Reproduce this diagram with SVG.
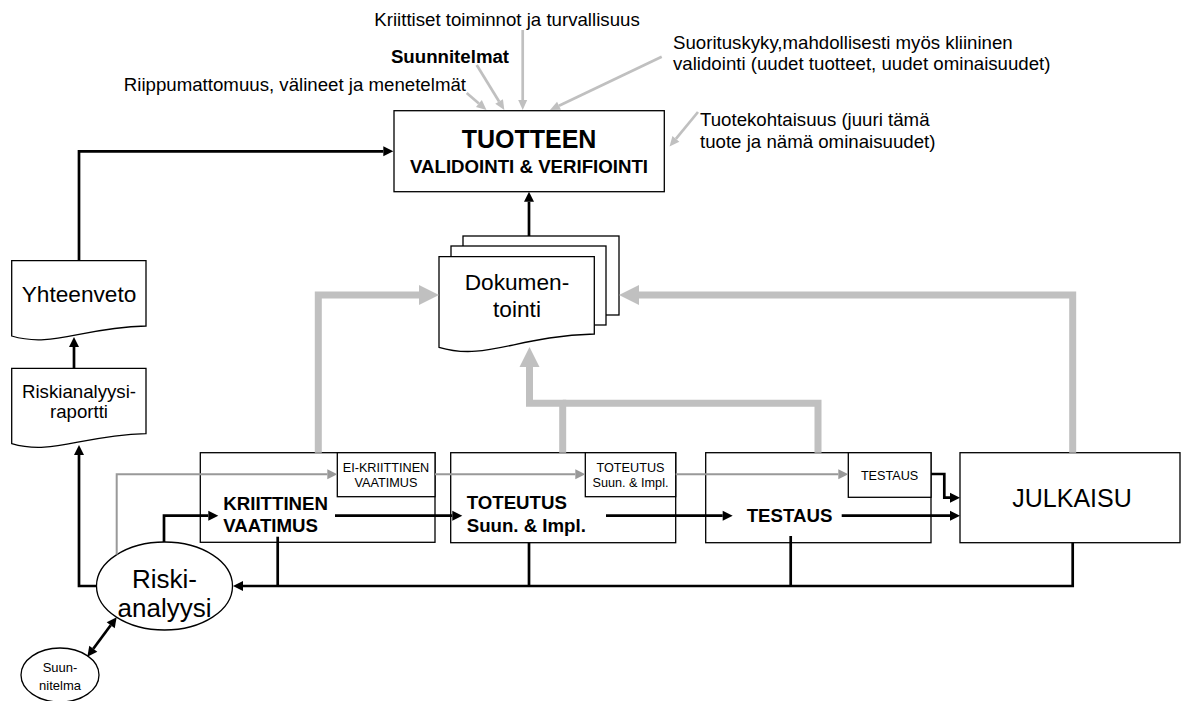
<svg xmlns="http://www.w3.org/2000/svg" width="1182" height="701" viewBox="0 0 1182 701">
  <style>
    text { font-family: "Liberation Sans", Arial, sans-serif; fill: #000; }
    .box { fill: #fff; stroke: #000; stroke-width: 1.3; }
    .lbl { font-size: 18.67px; }
    .b { font-weight: bold; }
    .sm { font-size: 12.67px; }
    .mid { text-anchor: middle; }
    .blk { fill: none; stroke: #000; stroke-width: 2.7; }
    .gthick { fill: none; stroke: #c0c0c0; stroke-width: 7; }
    .gthin { fill: none; stroke: #999; stroke-width: 2; }
    .gcall { fill: none; stroke: #c0c0c0; stroke-width: 2.7; }
  </style>
  <defs>
    <marker id="ab" markerUnits="userSpaceOnUse" markerWidth="10" markerHeight="10" refX="0" refY="5" orient="auto-start-reverse" overflow="visible">
      <path d="M0,0 L10,5 L0,10 Z" fill="#000"/>
    </marker>
    <marker id="ag" markerUnits="userSpaceOnUse" markerWidth="20" markerHeight="20" refX="0" refY="10" orient="auto" overflow="visible">
      <path d="M0,0 L20,10 L0,20 Z" fill="#c0c0c0"/>
    </marker>
    <marker id="at" markerUnits="userSpaceOnUse" markerWidth="10" markerHeight="10" refX="0" refY="5" orient="auto" overflow="visible">
      <path d="M0,0 L10,5 L0,10 Z" fill="#999"/>
    </marker>
    <marker id="ac" markerUnits="userSpaceOnUse" markerWidth="10" markerHeight="9" refX="0" refY="4.5" orient="auto" overflow="visible">
      <path d="M0,0 L10,4.5 L0,9 Z" fill="#c0c0c0"/>
    </marker>
  </defs>

  <rect width="1182" height="701" fill="#fff"/>

  <!-- annotations around the validation box -->
  <g id="notes">
    <text class="lbl mid" x="507" y="26">Kriittiset toiminnot ja turvallisuus</text>
    <text class="lbl b mid" x="450" y="63">Suunnitelmat</text>
    <text class="lbl" x="466" y="91" text-anchor="end">Riippumattomuus, välineet ja menetelmät</text>
    <text class="lbl" x="673" y="48.5">Suorituskyky,mahdollisesti myös kliininen</text>
    <text class="lbl" x="673" y="70">validointi (uudet tuotteet, uudet ominaisuudet)</text>
    <text class="lbl" x="700" y="126">Tuotekohtaisuus (juuri tämä</text>
    <text class="lbl" x="700" y="148">tuote ja nämä ominaisuudet)</text>
  </g>

  <g id="validointi">
    <rect class="box" x="394" y="110.7" width="270.3" height="81"/>
    <text class="b mid" x="529" y="148" font-size="25">TUOTTEEN</text>
    <text class="lbl b mid" x="529" y="173">VALIDOINTI &amp; VERIFIOINTI</text>
  </g>

  <g id="dokumentointi">
    <rect class="box" x="463" y="236" width="156" height="79"/>
    <rect class="box" x="451" y="246" width="155" height="79"/>
    <path class="box" d="M439,256.7 H594.3 V334 C516.7,336 485.6,361.3 439,347.3 Z"/>
    <text class="mid" x="517" y="290" font-size="22.67">Dokumen-</text>
    <text class="mid" x="517" y="316.7" font-size="22.67">tointi</text>
  </g>

  <g id="yhteenveto">
    <path class="box" d="M11.7,260.7 H146 V326 C78.8,328 52,348 11.7,336 Z"/>
    <text class="mid" x="79" y="301.7" font-size="22.67">Yhteenveto</text>
  </g>

  <g id="riskianalyysiraportti">
    <path class="box" d="M11.7,368.3 H146 V433.6 C78.8,435.6 52,455.6 11.7,443.6 Z"/>
    <text class="lbl mid" x="79" y="398">Riskianalyysi-</text>
    <text class="lbl mid" x="79" y="418">raportti</text>
  </g>

  <g id="kriittinen-vaatimus">
    <rect class="box" x="200.3" y="452.7" width="234.7" height="89.6"/>
    <text class="lbl b" x="223.3" y="510">KRIITTINEN</text>
    <text class="lbl b" x="223.3" y="531.7">VAATIMUS</text>
  </g>
  <g id="ei-kriittinen-vaatimus">
    <rect class="box" x="337.3" y="452.7" width="97.7" height="44"/>
    <text class="sm mid" x="386" y="471.7">EI-KRIITTINEN</text>
    <text class="sm mid" x="386" y="486.7">VAATIMUS</text>
  </g>

  <g id="toteutus">
    <rect class="box" x="450.7" y="452.7" width="225" height="90"/>
    <text class="lbl b" x="466.7" y="509.3">TOTEUTUS</text>
    <text class="lbl b" x="466.7" y="531.7">Suun. &amp; Impl.</text>
  </g>
  <g id="toteutus-ei-kriittinen">
    <rect class="box" x="585.3" y="452.7" width="90.4" height="44"/>
    <text class="sm mid" x="630.5" y="471.7">TOTEUTUS</text>
    <text class="sm mid" x="630.5" y="486.7">Suun. &amp; Impl.</text>
  </g>

  <g id="testaus">
    <rect class="box" x="705.7" y="452.7" width="225.3" height="90"/>
    <text class="lbl b" x="746.7" y="522">TESTAUS</text>
  </g>
  <g id="testaus-ei-kriittinen">
    <rect class="box" x="848.3" y="452.7" width="82.7" height="44.6"/>
    <text class="sm mid" x="889.6" y="480">TESTAUS</text>
  </g>

  <g id="julkaisu">
    <rect class="box" x="960" y="452.7" width="220" height="90"/>
    <text class="mid" x="1072" y="506.7" font-size="25">JULKAISU</text>
  </g>

  <g id="riskianalyysi">
    <ellipse class="box" cx="164.5" cy="586" rx="68" ry="44"/>
    <text class="mid" x="164.5" y="588" font-size="26">Riski-</text>
    <text class="mid" x="164.5" y="617" font-size="26">analyysi</text>
  </g>

  <g id="suunnitelma">
    <ellipse class="box" cx="60" cy="675" rx="39" ry="27"/>
    <text class="mid" x="60" y="672" font-size="13">Suun-</text>
    <text class="mid" x="60" y="690" font-size="13">nitelma</text>
  </g>

  <g id="connectors">
    <!-- light grey callouts into the validation box -->
    <path class="gcall" d="M466.7,93 L478.9,103.5" marker-end="url(#ac)"/>
    <path class="gcall" d="M476.7,65 L499.1,101.5" marker-end="url(#ac)"/>
    <path class="gcall" d="M522.7,30 L522.7,100" marker-end="url(#ac)"/>
    <path class="gcall" d="M661.7,56.7 L559,105.7" marker-end="url(#ac)"/>
    <path class="gcall" d="M698,112 L675.9,138.8" marker-end="url(#ac)"/>

    <!-- documentation feeds -->
    <path class="gthick" d="M318.3,452.7 V295 H419" marker-end="url(#ag)"/>
    <path class="gthick" d="M1072.7,452.7 V295 H639" marker-end="url(#ag)"/>
    <path class="gthick" d="M818,452.7 V403.3 H562.7"/>
    <path class="gthick" d="M562.7,452.7 V403.3 H529.5 V367" marker-end="url(#ag)"/>

    <!-- non-critical path -->
    <path class="gthin" d="M116.7,554.5 V474.3 H327.3" marker-end="url(#at)"/>
    <path class="gthin" d="M435,474.3 H575.3" marker-end="url(#at)"/>
    <path class="gthin" d="M675.7,474.3 H838.3" marker-end="url(#at)"/>

    <!-- critical path -->
    <path class="blk" d="M164,542 V515.7 H208.3" marker-end="url(#ab)"/>
    <path class="blk" d="M335,515.7 H452.3" marker-end="url(#ab)"/>
    <path class="blk" d="M606,515.7 H722.7" marker-end="url(#ab)"/>
    <path class="blk" d="M841.7,515.7 H950" marker-end="url(#ab)"/>
    <path class="blk" d="M931,474 H944.3 V497.7 H950" marker-end="url(#ab)"/>

    <!-- feedback to risk analysis -->
    <path class="blk" d="M1072.7,542.7 V586 H243" marker-end="url(#ab)"/>
    <path class="blk" d="M277.7,536.7 V586"/>
    <path class="blk" d="M529,542.7 V586"/>
    <path class="blk" d="M790.7,536 V586"/>

    <!-- reporting chain -->
    <path class="blk" d="M96.5,586 H79 V455" marker-end="url(#ab)"/>
    <path class="blk" d="M74,368.3 V347" marker-end="url(#ab)"/>
    <path class="blk" d="M79,260.7 V151.3 H383.3" marker-end="url(#ab)"/>
    <path class="blk" d="M529,236 V201.7" marker-end="url(#ab)"/>

    <!-- plan link -->
    <path class="blk" d="M93.3,648.7 L110.7,625.3" marker-start="url(#ab)" marker-end="url(#ab)"/>
  </g>
</svg>
